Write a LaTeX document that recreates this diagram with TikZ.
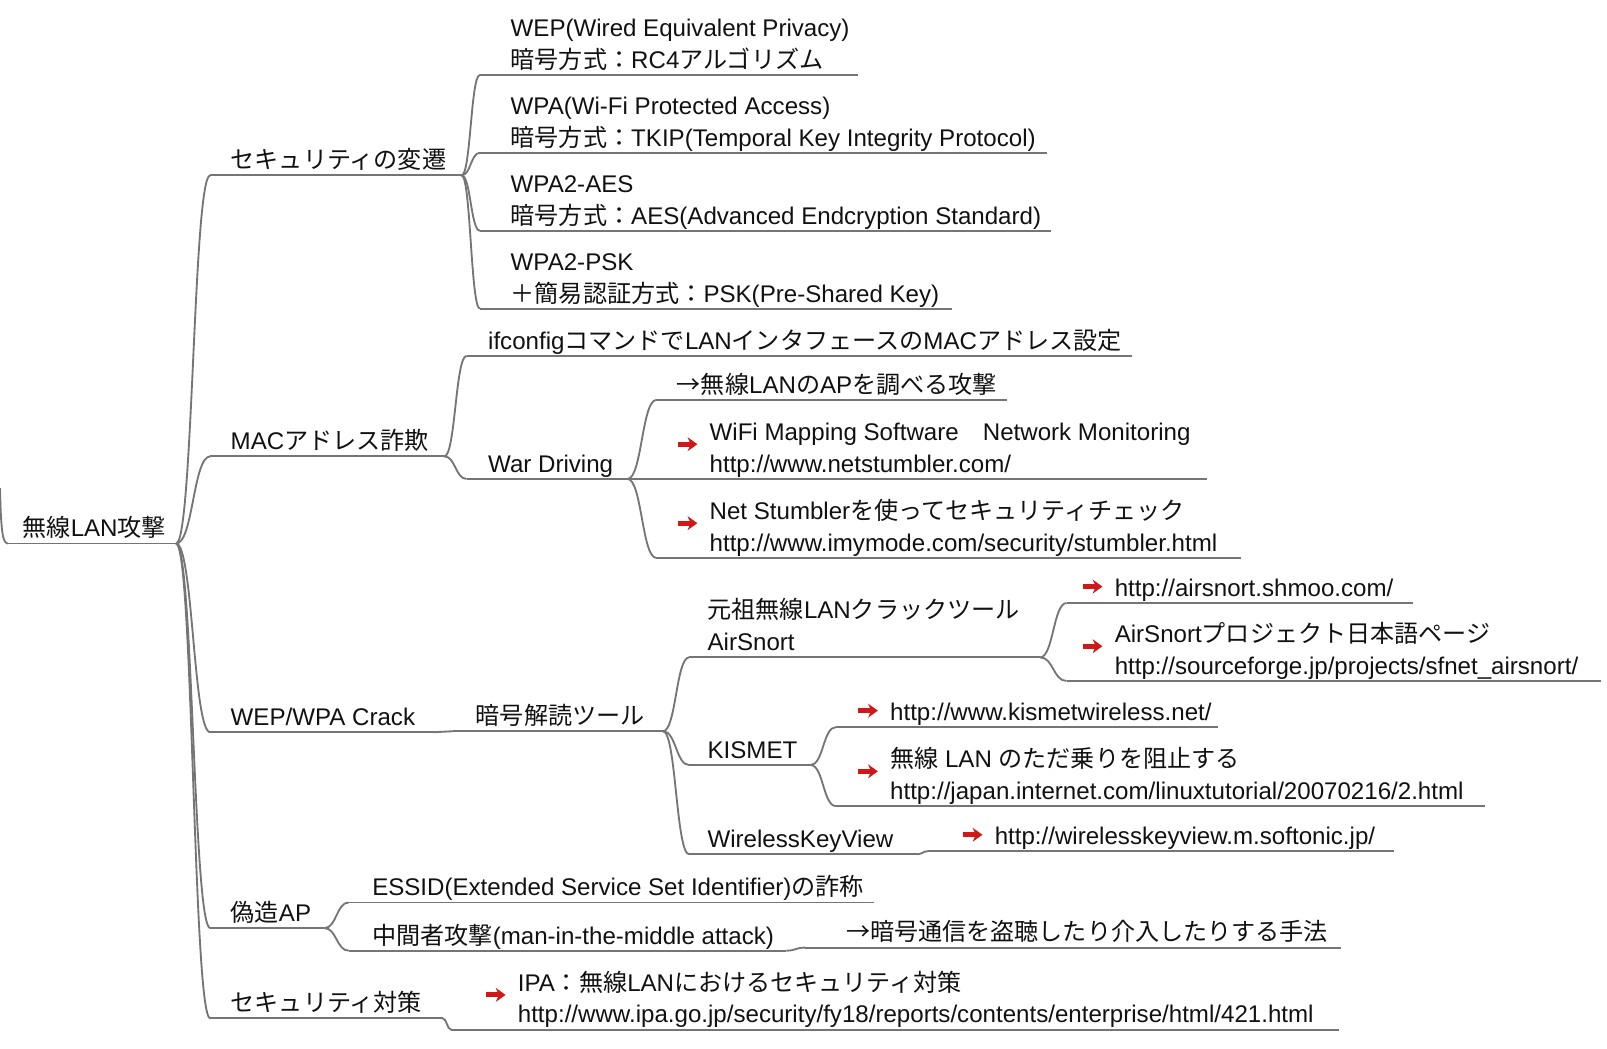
\documentclass[tikz,border=0pt]{standalone}
\usepackage{fontspec}
\setmainfont{Liberation Sans}
\newfontfamily\jpfont{Noto Sans CJK JP}
\usetikzlibrary{arrows.meta,calc}
% switch to the Japanese font for CJK characters
\newXeTeXintercharclass\JPcls
\newcount\jpc
\newcommand\setjprange[2]{\jpc=#1\relax\loop\XeTeXcharclass\jpc=\JPcls\relax\ifnum\jpc<#2\relax\advance\jpc by 1\relax\repeat}
\setjprange{"3000}{"30FF}
\setjprange{"4E00}{"9FFF}
\setjprange{"FF00}{"FFEF}
\XeTeXcharclass"2192=\JPcls
\XeTeXinterchartoks 0 \JPcls = {\begingroup\jpfont}
\XeTeXinterchartoks 4095 \JPcls = {\begingroup\jpfont}
\XeTeXinterchartoks \JPcls 0 = {\endgroup}
\XeTeXinterchartoks \JPcls 4095 = {\endgroup}
\XeTeXinterchartokenstate=1
\definecolor{txtc}{HTML}{111111}
\definecolor{linec}{HTML}{757575}
\definecolor{arrc}{HTML}{D01818}
\tikzset{
  mm/.style={anchor=south west, inner xsep=0pt, inner ysep=6.5pt, outer sep=0pt,
    text depth=0pt, font=\fontsize{23.5}{31}\selectfont, text=txtc},
  ul/.style={draw=linec, line width=1.8pt},
  redarr/.style={draw=arrc, line width=5pt, -{Stealth[length=9.5pt,width=13.5pt,inset=3pt]}}
}
\newcommand\two[2]{\begin{tabular}[b]{@{}l@{}}#1\\#2\end{tabular}}
\newcommand\mm[6]{%
  \node[mm] (#1) at (#2,#3) {#6};
  \coordinate (#1-s) at ([xshift=-#4pt]#1.south west);
  \coordinate (#1-e) at ([xshift=#5pt]#1.south east);
  \draw[ul] (#1-s) -- (#1-e);}
\newcommand\cn[2]{\draw[ul] let \p1=(#1-e), \p2=(#2-s), \n1={0.5*(\x2-\x1)} in
  (\p1) .. controls +(\n1,0) and +(-\n1,0) .. (\p2);}
\newcommand\icon[1]{\draw[redarr] ([xshift=-31pt,yshift=1pt]#1.west) -- ([xshift=-12pt,yshift=1pt]#1.west);}
\begin{document}
\begin{tikzpicture}[x=1pt,y=-1pt]
\useasboundingbox (0,0) rectangle (1567,1022);
% root
\mm{root}{22}{530}{14}{10}{無線LAN攻撃}
\coordinate (rin) at (0,476);
\draw[ul] (rin) .. controls (1,522) and (3,530) .. (root-s);
% level 1
\mm{sec}{225}{171}{20}{15}{セキュリティの変遷}
\mm{mac}{225}{445}{20}{15}{MACアドレス詐欺}
\mm{crack}{225}{714}{20}{18}{WEP/WPA Crack}
\mm{fake}{225}{905}{20}{13}{偽造AP}
\mm{meas}{225}{993}{20}{20}{セキュリティ対策}
\cn{root}{sec}\cn{root}{mac}\cn{root}{crack}\cn{root}{fake}\cn{root}{meas}
% security history
\mm{wep}{498}{73}{30}{8}{\two{WEP(Wired Equivalent Privacy)}{暗号方式：RC4アルゴリズム}}
\mm{wpa}{498}{149}{30}{11}{\two{WPA(Wi-Fi Protected Access)}{暗号方式：TKIP(Temporal Key Integrity Protocol)}}
\mm{aes}{498}{225}{30}{10}{\two{WPA2-AES}{暗号方式：AES(Advanced Endcryption Standard)}}
\mm{psk}{498}{301}{30}{12}{\two{WPA2-PSK}{＋簡易認証方式：PSK(Pre-Shared Key)}}
\cn{sec}{wep}\cn{sec}{wpa}\cn{sec}{aes}\cn{sec}{psk}
% MAC spoofing
\mm{ifc}{476}{347}{21}{10}{ifconfigコマンドでLANインタフェースのMACアドレス設定}
\mm{wd}{476}{467}{21}{14}{War Driving}
\cn{mac}{ifc}\cn{mac}{wd}
\mm{ap}{660}{390}{20}{10}{→無線LANのAPを調べる攻撃}
\mm{wifi}{692}{467}{52}{16}{\two{WiFi Mapping Software　Network Monitoring}{http://www.netstumbler.com/}}
\mm{ns}{692}{544}{52}{23}{\two{Net Stumblerを使ってセキュリティチェック}{http://www.imymode.com/security/stumbler.html}}
\cn{wd}{ap}\cn{wd}{wifi}\cn{wd}{ns}
\icon{wifi}\icon{ns}
% WEP/WPA crack
\mm{tool}{464}{713}{22}{18}{暗号解読ツール}
\cn{crack}{tool}
\mm{as}{690}{641}{18}{20}{\two{元祖無線LANクラックツール}{AirSnort}}
\mm{kis}{690}{746}{18}{13}{KISMET}
\mm{wkv}{690}{833}{18}{23}{WirelessKeyView}
\cn{tool}{as}\cn{tool}{kis}\cn{tool}{wkv}
\mm{as1}{1087}{588}{47}{19}{http://airsnort.shmoo.com/}
\mm{as2}{1087}{664}{47}{22}{\two{AirSnortプロジェクト日本語ページ}{http://sourceforge.jp/projects/sfnet\_airsnort/}}
\cn{as}{as1}\cn{as}{as2}
\icon{as1}\icon{as2}
\mm{k1}{868}{709}{53}{6}{http://www.kismetwireless.net/}
\mm{k2}{868}{786}{53}{21}{\two{無線 LAN のただ乗りを阻止する}{http://japan.internet.com/linuxtutorial/20070216/2.html}}
\cn{kis}{k1}\cn{kis}{k2}
\icon{k1}\icon{k2}
\mm{w1}{970}{830}{65}{18}{http://wirelesskeyview.m.softonic.jp/}
\cn{wkv}{w1}
\icon{w1}
% fake AP
\mm{essid}{363}{880}{23}{10}{ESSID(Extended Service Set Identifier)の詐称}
\mm{mitm}{363}{927}{23}{12}{中間者攻撃(man-in-the-middle attack)}
\cn{fake}{essid}\cn{fake}{mitm}
\mm{m1}{825}{924}{40}{13}{→暗号通信を盗聴したり介入したりする手法}
\cn{mitm}{m1}
% countermeasures
\mm{ipa}{505}{1004}{65}{25}{\two{IPA：無線LANにおけるセキュリティ対策}{http://www.ipa.go.jp/security/fy18/reports/contents/enterprise/html/421.html}}
\cn{meas}{ipa}
\icon{ipa}
\end{tikzpicture}
\end{document}
